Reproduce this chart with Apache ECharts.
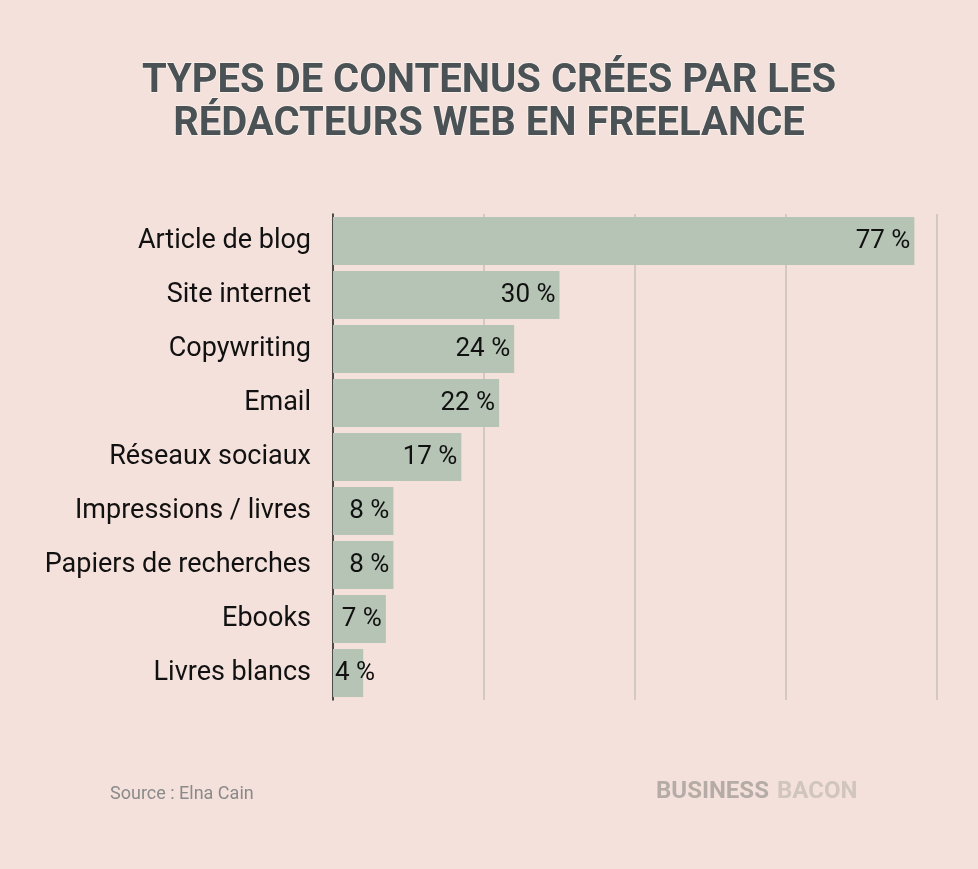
<!DOCTYPE html>
<html><head><meta charset="utf-8">
<script src="https://cdn.jsdelivr.net/npm/echarts@6/dist/echarts.min.js"></script>
<style>html,body{margin:0;padding:0;background:#f4e1db}#c{width:978px;height:869px}</style>
</head><body><div id="c"></div>
<script>
var categories = ["Article de blog","Site internet","Copywriting","Email","Réseaux sociaux","Impressions / livres","Papiers de recherches","Ebooks","Livres blancs"];
var values = [77,30,24,22,17,8,8,7,4];
var xTicks = [0,20,40,60,80];

var chart = echarts.init(document.getElementById('c'));
chart.setOption({
  backgroundColor:'#f4e1db',
  animation:false,
  title:{
    text:'TYPES DE CONTENUS CRÉES PAR LES\nRÉDACTEURS WEB EN FREELANCE',
    left:'center', top:55,
    textStyle:{fontFamily:'Roboto',fontWeight:'bold',fontSize:40,color:'#4a5255',lineHeight:43,
      textBorderColor:'#fbf1ec',textBorderWidth:1.5}
  },
  grid:{left:333,top:214,width:604,height:486,containLabel:false},
  xAxis:{type:'value',min:xTicks[0],max:xTicks[xTicks.length-1],interval:20,
    axisLabel:{show:false},axisTick:{show:false},axisLine:{show:false},
    splitLine:{lineStyle:{color:'#c9c1bd',width:1.5}}},
  yAxis:{type:'category',data:categories,inverse:true,
    axisTick:{show:false},
    axisLine:{lineStyle:{color:'#222',width:1.5}},
    axisLabel:{fontFamily:'Roboto',fontSize:27,color:'#111',margin:22,padding:[3,0,0,0]}},
  series:[{type:'bar',barWidth:48,
    data:values.map(function(v){
      return v<5 ? {value:v,label:{position:'insideLeft',distance:2}} : v;
    }),
    itemStyle:{color:'#b5c4b4'},
    label:{show:true,position:'insideRight',distance:4,fontFamily:'Roboto',fontSize:26,color:'#111',padding:[3,0,0,0],
      formatter:function(p){return p.value+' %';}}
  }],
  graphic:[
    {type:'text',left:110,top:785,style:{text:'Source : Elna Cain',fontFamily:'Roboto',fontSize:18,fill:'#8a8a8a'}},
    {type:'text',left:656,top:780,style:{text:'BUSINESS',fontFamily:'Roboto',fontWeight:'bold',fontSize:24,fill:'#b5aca7'}},
    {type:'text',left:777,top:780,style:{text:'BACON',fontFamily:'Roboto',fontWeight:'bold',fontSize:24,fill:'#d1c5bf'}}
  ]
});
</script></body></html>
